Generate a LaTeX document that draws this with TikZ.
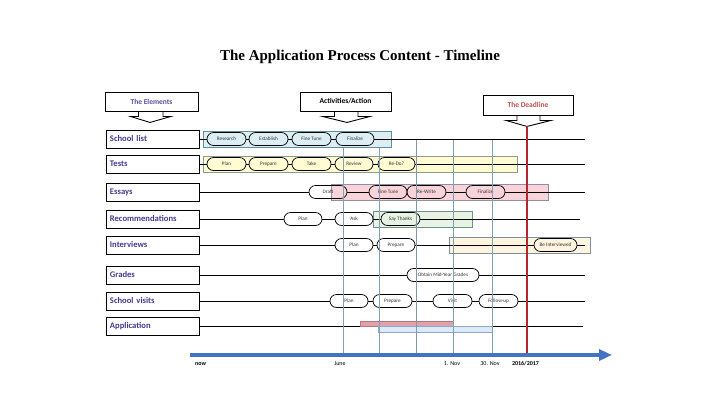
\documentclass[tikz,border=0pt]{standalone}
\usepackage{fontspec}
\setmainfont{Carlito}
\newfontfamily\titlefont{Liberation Serif}
\usetikzlibrary{shapes.misc,arrows.meta,calc}
\definecolor{labcol}{HTML}{433A90}
\definecolor{elcol}{HTML}{5A4E9C}
\definecolor{deadcol}{HTML}{C0504D}
\definecolor{vcol}{HTML}{7FA2B2}
\definecolor{redl}{HTML}{B3282D}
\definecolor{axcol}{HTML}{4472C4}
\definecolor{pilltext}{HTML}{333333}
\definecolor{slfill}{HTML}{DCEEF4}
\definecolor{sldraw}{HTML}{5F8F9F}
\definecolor{tsfill}{HTML}{FFFBD3}
\definecolor{tsdraw}{HTML}{8C9C8C}
\definecolor{esfill}{HTML}{F9D3DA}
\definecolor{esdraw}{HTML}{8F8FA0}
\definecolor{rcfill}{HTML}{E8F3E4}
\definecolor{rcdraw}{HTML}{6F8F8F}
\definecolor{ivfill}{HTML}{FEF4DF}
\definecolor{ivdraw}{HTML}{7F8F9F}
\definecolor{appink}{HTML}{DBA3AB}
\definecolor{appinkd}{HTML}{C07080}
\definecolor{apblue}{HTML}{DCE9F8}
\definecolor{apblued}{HTML}{90A8C8}
\begin{document}
\begin{tikzpicture}[x=1pt,y=-1pt,
  lab/.style={draw=black, line width=0.9pt, minimum width=93, minimum height=18, text width=86, align=left, inner sep=0pt, anchor=west, font=\fontsize{8.6}{9}\selectfont\bfseries, text=labcol},
  hdr/.style={draw=black, line width=0.9pt, fill=white, inner sep=0pt, font=\fontsize{7.5}{9}\selectfont\bfseries},
  callout/.style={draw=black, line width=0.9pt},
  pill/.style={rounded rectangle, draw=black, line width=0.7pt, minimum height=13, inner sep=0pt, font=\fontsize{5.2}{6}\selectfont, text=pilltext},
  row/.style={draw=black, line width=0.9pt},
  hl/.style={line width=0.8pt},
  vline/.style={draw=vcol, line width=0.9pt},
  axlab/.style={font=\fontsize{6}{7}\selectfont, inner sep=0pt}
]
\useasboundingbox (0,0) rectangle (720,405);
\fill[white] (0,0) rectangle (720,405);

% title
\node[font=\titlefont\bfseries\fontsize{15}{17}\selectfont] (title) at (360,57) {The Application Process Content - Timeline};

% header callouts
\node[hdr, minimum width=93, minimum height=19, text=elcol] (el) at (151.5,101.5) {The Elements};
\draw[callout] ($(el.south)+(-13,0)$) -- ++(0,5) -- ++(-8,0) -- ($(el.south)+(-1.5,11)$) -- ($(el.south)+(19.5,5)$) -- ++(-8,0) -- ++(0,-5);
\node[hdr, minimum width=91, minimum height=19] (act) at (345.5,101.5) {Activities/Action};
\draw[callout] ($(act.south)+(-11,0)$) -- ++(0,5) -- ++(-12,0) -- ($(act.south)+(1.5,11)$) -- ($(act.south)+(24.5,5)$) -- ++(-12,0) -- ++(0,-5);
\node[hdr, minimum width=90, minimum height=20, text=deadcol] (dl) at (528,105) {The Deadline};
\draw[callout] ($(dl.south)+(-11,0)$) -- ++(0,5) -- ++(-11,0) -- ($(dl.south)+(-1,11)$) -- ($(dl.south)+(23,5)$) -- ++(-11,0) -- ++(0,-5);

% highlight boxes (behind)
\draw[hl, draw=tsdraw, fill=tsfill] (203,156) rectangle (517,172);
\draw[hl, draw=esdraw, fill=esfill] (331,184) rectangle (548,200);
\draw[hl, draw=rcdraw, fill=rcfill] (373,211) rectangle (472,227);
\draw[hl, draw=ivdraw, fill=ivfill] (449,237) rectangle (590,253);

% row labels
\node[lab] (sl) at (106,139) {School list};
\node[lab] (ts) at (106,164) {Tests};
\node[lab] (es) at (106,192) {Essays};
\node[lab] (rc) at (106,219) {Recommendations};
\node[lab] (iv) at (106,245) {Interviews};
\node[lab] (gr) at (106,275) {Grades};
\node[lab] (sv) at (106,301) {School visits};
\node[lab] (ap) at (106,326) {Application};

% row end points
\coordinate (tsE) at (585,164);
\coordinate (esE) at (585,192);
\coordinate (rcE) at (580,219);
\coordinate (ivE) at (585,245);
\coordinate (grE) at (585,275);
\coordinate (svE) at (585,301);
\coordinate (apE) at (583,326);

% Tests
\node[pill, minimum width=39] (t1) at (226.5,164) {Plan};
\node[pill, minimum width=39] (t2) at (268.5,164) {Prepare};
\node[pill, minimum width=39] (t3) at (311.5,164) {Take};
\node[pill, minimum width=38] (t4) at (354,164) {Review};
\node[pill, minimum width=37] (t5) at (396.5,164) {Re-Do?};
\draw[row] (ts.east) -- (t1.west) (t1.east) -- (t2.west) (t2.east) -- (t3.west) (t3.east) -- (t4.west) (t4.east) -- (t5.west) (t5.east) -- (tsE);

% Essays
\node[pill, minimum width=38] (e1) at (328,192) {Draft};
\node[pill, minimum width=38] (e2) at (388,192) {Fine Tune};
\node[pill, minimum width=39] (e3) at (426.5,192) {Re-Write};
\node[pill, minimum width=39] (e4) at (485.5,192) {Finalize};
\draw[row] (es.east) -- (e1.west) (e1.east) -- (e2.west) (e3.east) -- (e4.west) (e4.east) -- (esE);

% Recommendations
\node[pill, minimum width=38] (r1) at (303,219) {Plan};
\node[pill, minimum width=38] (r2) at (354,219) {Ask};
\node[pill, minimum width=39] (r3) at (400.5,219) {Say Thanks};
\draw[row] (rc.east) -- (r1.west) (r1.east) -- (r2.west) (r2.east) -- (r3.west) (r3.east) -- (rcE);

% Interviews
\node[pill, minimum width=38] (i1) at (354,245) {Plan};
\node[pill, minimum width=38] (i2) at (396,245) {Prepare};
\node[pill, minimum width=43] (i3) at (555.5,245) {Be Interviewed};
\draw[row] (iv.east) -- (i1.west) (i1.east) -- (i2.west) (i2.east) -- (i3.west) (i3.east) -- (ivE);

% Grades
\node[pill, minimum width=72] (g1) at (443,275) {Obtain Mid-Year Grades};
\draw[row] (gr.east) -- (g1.west) (g1.east) -- (grE);

% School visits
\node[pill, minimum width=38] (v1) at (349,301) {Plan};
\node[pill, minimum width=39] (v2) at (392.5,301) {Prepare};
\node[pill, minimum width=39] (v3) at (452.5,301) {Visit};
\node[pill, minimum width=39] (v4) at (498.5,301) {Follow-up};
\draw[row] (sv.east) -- (v1.west) (v1.east) -- (v2.west) (v2.east) -- (v3.west) (v3.east) -- (v4.west) (v4.east) -- (svE);

% Application
\draw[row] (ap.east) -- (apE);
\draw[hl, draw=appinkd, fill=appink] (360,321) rectangle (453,326);
\draw[hl, draw=apblued, fill=apblue] (378,326.5) rectangle (492,332);

% vertical lines
\coordinate (vb1) at (343,355); \coordinate (vb2) at (379,355); \coordinate (vb3) at (416,355);
\coordinate (vb4) at (453,355); \coordinate (vb5) at (492,355);
\draw[vline] (343,148) -- (vb1);
\draw[vline] (379,148) -- (vb2);
\draw[vline, draw=vcol!70!gray] (416,139) -- (vb3);
\draw[vline] (453,139) -- (vb4);
\draw[vline] (492,139) -- (vb5);

% School list (on top)
\draw[hl, draw=sldraw, fill=slfill] (203,131) rectangle (391,147);
\coordinate (slE) at (585,139);
\node[pill, minimum width=39] (s1) at (226.5,139) {Research};
\node[pill, minimum width=39] (s2) at (268.5,139) {Establish};
\node[pill, minimum width=39] (s3) at (311.5,139) {Fine Tune};
\node[pill, minimum width=38] (s4) at (355,139) {Finalize};
\draw[row] (sl.east) -- (s1.west) (s1.east) -- (s2.west) (s2.east) -- (s3.west) (s3.east) -- (s4.west) (s4.east) -- (slE);

% deadline line
\coordinate (dtop) at (527,126);
\coordinate (dbot) at (527,355);
\draw[draw=redl, line width=2.3pt] (dtop) -- (dbot);

% axis
\coordinate (ax0) at (190,355);
\coordinate (ax1) at (612,355);
\draw[draw=axcol, line width=3.5pt, -{Triangle[length=13pt,width=11pt]}] (ax0) -- (ax1);
\node[axlab, anchor=west, font=\fontsize{6}{7}\selectfont\bfseries] (now) at (195,364) {now};
\node[axlab] (jun) at (340,364) {June};
\node[axlab] (nov1) at (452,364) {1. Nov};
\node[axlab] (nov30) at (490,364) {30. Nov};
\node[axlab, font=\fontsize{6}{7}\selectfont\bfseries] (yr) at (525.5,364) {2016/2017};
\end{tikzpicture}
\end{document}
